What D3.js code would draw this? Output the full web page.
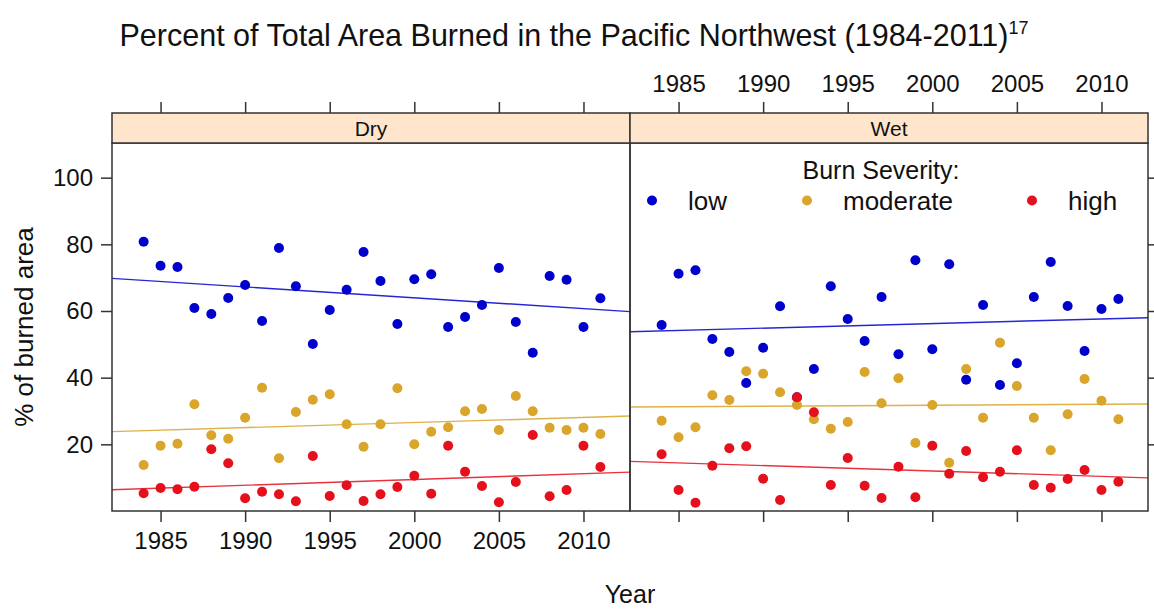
<!DOCTYPE html>
<html>
<head>
<meta charset="utf-8">
<script src="https://cdn.jsdelivr.net/npm/d3@7"></script>
<style>
  html, body { margin: 0; padding: 0; background: #fff; }
  svg { display: block; font-family: Arial, "Liberation Sans", Helvetica, sans-serif; }
</style>
</head>
<body>
<svg id="chart" width="1154" height="612"></svg>
<script>
// ---------------- data ----------------
const years = [1984,1985,1986,1987,1988,1989,1990,1991,1992,1993,1994,1995,1996,1997,
               1998,1999,2000,2001,2002,2003,2004,2005,2006,2007,2008,2009,2010,2011];
const panels = ["Dry", "Wet"];
const severities = ["low", "moderate", "high"];
const severityColors = ["#0000cd", "#d9a52a", "#e5101c"];

const dryLow      = [80.8,73.6,73.2,60.9,59.1,63.9,67.8,57.0,78.9,67.4,50.1,60.3,66.4,77.7,69.0,56.1,69.5,71.0,55.2,58.2,61.8,72.9,56.7,47.5,70.5,69.4,55.2,63.8];
const dryModerate = [13.8,19.6,20.2,32.0,22.7,21.7,28.0,37.0,15.8,29.7,33.4,35.0,26.0,19.3,26.0,36.8,20.0,23.8,25.1,29.9,30.6,24.3,34.5,29.9,25.0,24.3,25.0,23.1];
const dryHigh     = [5.3,6.9,6.5,7.3,18.5,14.3,3.8,5.8,5.0,2.9,16.5,4.5,7.7,3.0,5.0,7.2,10.6,5.2,19.6,11.8,7.5,2.6,8.7,22.8,4.4,6.3,19.6,13.2];
const wetLow      = [55.8,71.2,72.2,51.6,47.7,38.4,49.0,61.4,34.1,42.6,67.4,57.6,51.0,64.2,47.0,75.2,48.5,74.0,39.4,61.8,37.8,44.3,64.2,74.7,61.5,48.0,60.6,63.6];
const wetModerate = [27.1,22.1,25.1,34.7,33.3,41.9,41.2,35.6,31.8,27.5,24.7,26.7,41.7,32.3,39.8,20.4,31.8,14.5,42.6,28.0,50.5,37.5,28.0,18.2,29.0,39.6,33.1,27.5];
const wetHigh     = [17.0,6.3,2.5,13.6,18.8,19.4,9.7,3.3,34.1,29.6,7.8,15.9,7.6,3.9,13.3,4.1,19.6,11.2,18.0,10.1,11.8,18.2,7.8,7.0,9.6,12.3,6.3,8.8];

const xTicks = [1985,1990,1995,2000,2005,2010];
const yTicks = [20,40,60,80,100];

const panelData = {
  Dry: [dryLow, dryModerate, dryHigh],
  Wet: [wetLow, wetModerate, wetHigh]
};

// ---------------- layout ----------------
const svg = d3.select("#chart");
const left = 112, panelW = 518, stripTop = 113, stripH = 30, plotTop = 143, plotBottom = 511;
const tickLen = 11;
const xDomain = [1982.13, 2012.75];
const y = d3.scaleLinear().domain([0, 110.4]).range([plotBottom, plotTop]);

// title
const title = svg.append("text")
  .attr("x", 574).attr("y", 46)
  .attr("text-anchor", "middle")
  .attr("font-size", 30.5).attr("fill", "#111");
title.append("tspan").text("Percent of Total Area Burned in the Pacific Northwest (1984-2011)");
title.append("tspan").attr("font-size", 18).attr("dy", -12).text("17");

function linreg(xs, ys) {
  const mx = d3.mean(xs), my = d3.mean(ys);
  let sxy = 0, sxx = 0;
  xs.forEach((xv, i) => { sxy += (xv - mx) * (ys[i] - my); sxx += (xv - mx) * (xv - mx); });
  const b = sxy / sxx;
  return { a: my - b * mx, b: b };
}

panels.forEach((p, pi) => {
  const x0 = left + pi * panelW;
  const x = d3.scaleLinear().domain(xDomain).range([x0, x0 + panelW]);
  const g = svg.append("g");

  const clipId = "clip" + pi;
  svg.append("clipPath").attr("id", clipId)
    .append("rect").attr("x", x0).attr("y", plotTop).attr("width", panelW).attr("height", plotBottom - plotTop);

  // series: points then regression line (lattice order)
  const plotG = g.append("g").attr("clip-path", `url(#${clipId})`);
  panelData[p].forEach((vals, si) => {
    const col = severityColors[si];
    plotG.append("g").selectAll("circle")
      .data(vals).join("circle")
      .attr("cx", (d, i) => x(years[i]))
      .attr("cy", d => y(d))
      .attr("r", 5)
      .attr("fill", col);
    const r = linreg(years, vals);
    plotG.append("line")
      .attr("x1", x(xDomain[0])).attr("y1", y(r.a + r.b * xDomain[0]))
      .attr("x2", x(xDomain[1])).attr("y2", y(r.a + r.b * xDomain[1]))
      .attr("stroke", col).attr("stroke-width", 1.4).attr("opacity", 0.85);
  });

  // panel border
  g.append("rect").attr("x", x0).attr("y", plotTop).attr("width", panelW).attr("height", plotBottom - plotTop)
    .attr("fill", "none").attr("stroke", "#333").attr("stroke-width", 1.5);

  // strip
  g.append("rect").attr("x", x0).attr("y", stripTop).attr("width", panelW).attr("height", stripH)
    .attr("fill", "#ffe5cc").attr("stroke", "#333").attr("stroke-width", 1.5);
  g.append("text").attr("x", x0 + panelW / 2).attr("y", stripTop + stripH / 2 + 7.5)
    .attr("text-anchor", "middle").attr("font-size", 21).attr("fill", "#111").text(p);

  // bottom axis (labels on Dry only)
  const bottomAxis = d3.axisBottom(x).tickValues(xTicks).tickSizeInner(tickLen).tickSizeOuter(0)
    .tickPadding(10).tickFormat(pi === 0 ? d3.format("d") : () => "");
  const ba = g.append("g").attr("transform", `translate(0,${plotBottom})`).call(bottomAxis);
  // top axis (labels on Wet only)
  const topAxis = d3.axisTop(x).tickValues(xTicks).tickSizeInner(tickLen).tickSizeOuter(0)
    .tickPadding(10).tickFormat(pi === 1 ? d3.format("d") : () => "");
  const ta = g.append("g").attr("transform", `translate(0,${stripTop})`).call(topAxis);
  [ba, ta].forEach(a => {
    a.select(".domain").remove();
    a.selectAll(".tick line").attr("stroke", "#333").attr("stroke-width", 1.5);
    a.selectAll(".tick text").attr("font-size", 24).attr("fill", "#111").attr("font-family", null);
  });

  // y axis: labels on left of Dry, ticks on right of Wet
  if (pi === 0) {
    const la = g.append("g").attr("transform", `translate(${x0},0)`)
      .call(d3.axisLeft(y).tickValues(yTicks).tickSizeInner(tickLen).tickSizeOuter(0).tickPadding(8));
    la.select(".domain").remove();
    la.selectAll(".tick line").attr("stroke", "#333").attr("stroke-width", 1.5);
    la.selectAll(".tick text").attr("font-size", 24).attr("fill", "#111").attr("font-family", null);
  } else {
    const ra = g.append("g").attr("transform", `translate(${x0 + panelW},0)`)
      .call(d3.axisRight(y).tickValues(yTicks).tickSizeInner(tickLen).tickSizeOuter(0).tickFormat(() => ""));
    ra.select(".domain").remove();
    ra.selectAll(".tick line").attr("stroke", "#333").attr("stroke-width", 1.5);
  }
});

// axis titles
svg.append("text").attr("x", left + panelW).attr("y", 603)
  .attr("text-anchor", "middle").attr("font-size", 25).attr("fill", "#111").text("Year");
svg.append("text").attr("transform", `translate(33,${(plotTop + plotBottom) / 2}) rotate(-90)`)
  .attr("text-anchor", "middle").attr("font-size", 26).attr("fill", "#111").text("% of burned area");

// legend (inside Wet panel)
const legX = [652, 807, 1032];
svg.append("text").attr("x", 881).attr("y", 179)
  .attr("text-anchor", "middle").attr("font-size", 25).attr("fill", "#111").text("Burn Severity:");
const leg = svg.append("g").selectAll("g").data(severities).join("g")
  .attr("transform", (d, i) => `translate(${legX[i]},200.5)`);
leg.append("circle").attr("r", 5).attr("fill", (d, i) => severityColors[i]);
leg.append("text").attr("x", 36).attr("y", 9).attr("font-size", 26).attr("fill", "#111").text(d => d);
</script>
</body>
</html>
